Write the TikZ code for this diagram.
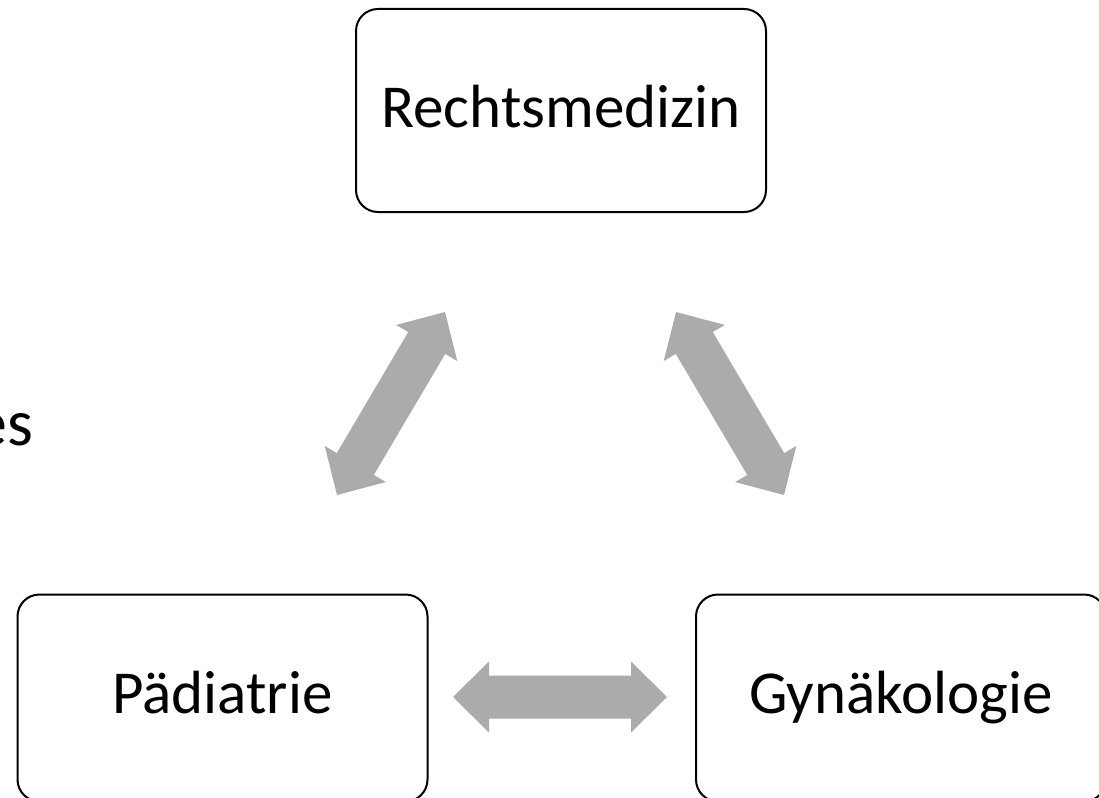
\documentclass[tikz,border=0pt]{standalone}
\usepackage{fontspec}
\setmainfont{Carlito}
\usetikzlibrary{calc}
\definecolor{arrowgray}{HTML}{ABABAB}
\tikzset{
  box/.style={draw=black, line width=2pt, rounded corners=22pt, fill=white,
    minimum width=410pt, minimum height=203pt, inner sep=0pt,
    font=\fontsize{61}{73}\selectfont},
  arrowfill/.style={fill=arrowgray, draw=none}
}
\newcommand\blockarrow[2]{%
  \fill[arrowfill]
    (#1)
    -- ($($(#1)!36pt!(#2)$)!35.5pt!90:(#2)$)
    -- ($($(#1)!36pt!(#2)$)!21.5pt!90:(#2)$)
    -- ($($(#2)!36pt!(#1)$)!21.5pt!-90:(#1)$)
    -- ($($(#2)!36pt!(#1)$)!35.5pt!-90:(#1)$)
    -- (#2)
    -- ($($(#2)!36pt!(#1)$)!35.5pt!90:(#1)$)
    -- ($($(#2)!36pt!(#1)$)!21.5pt!90:(#1)$)
    -- ($($(#1)!36pt!(#2)$)!21.5pt!-90:(#2)$)
    -- ($($(#1)!36pt!(#2)$)!35.5pt!-90:(#2)$)
    -- cycle;}
\begin{document}
\begin{tikzpicture}[x=1pt,y=-1pt]
\useasboundingbox (0,0) rectangle (1099,797);
\node[box, text height=40pt, text depth=5pt] (recht) at (561,110.5) {Rechtsmedizin};
\node[box, minimum height=207pt, text height=40pt, text depth=10pt] (paed) at (222.5,698) {Pädiatrie};
\node[box, minimum height=207pt, text height=40pt, text depth=10pt] (gyn) at (901,698) {Gynäkologie};
\node[anchor=base east, inner sep=0pt, font=\fontsize{66}{78}\selectfont] (es) at (33,445) {es};
\coordinate (a1) at (337,495);
\coordinate (b1) at (445,312);
\coordinate (a2) at (676,312);
\coordinate (b2) at (784,495);
\coordinate (a3) at (453,697);
\coordinate (b3) at (667,697);
\blockarrow{a1}{b1}
\blockarrow{a2}{b2}
\blockarrow{a3}{b3}
\end{tikzpicture}
\end{document}
